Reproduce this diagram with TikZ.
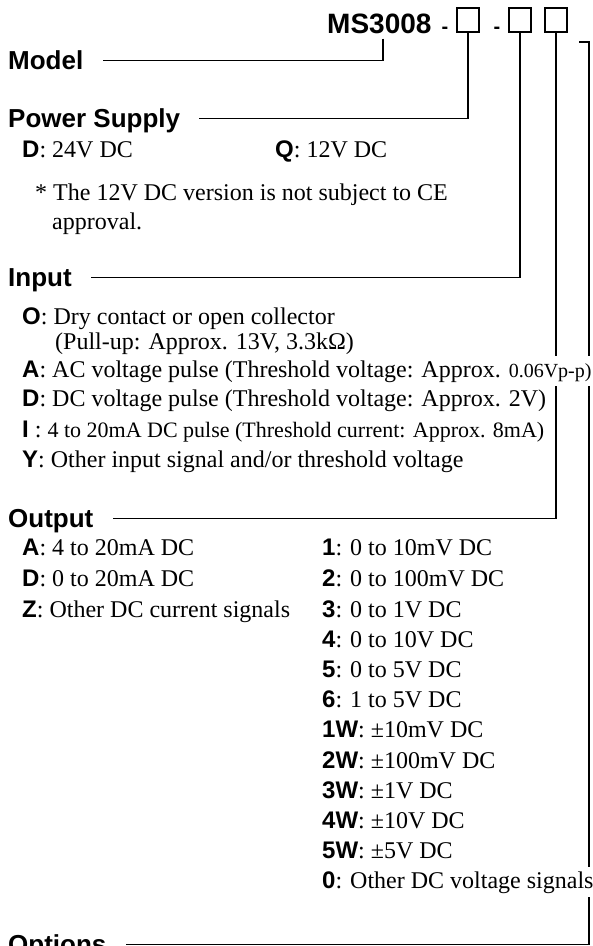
\documentclass[tikz,border=0pt]{standalone}
\usepackage{fontspec}
\setmainfont{Liberation Serif}
\setsansfont{Liberation Sans}
\usetikzlibrary{positioning}

\newcommand{\lbl}[1]{{\sffamily\bfseries #1}}

\begin{document}
\begin{tikzpicture}[x=1pt, y=-1pt,
    head/.style={anchor=base west, inner sep=0pt, text height=17pt, text depth=0pt, font=\sffamily\bfseries\fontsize{26}{30}\selectfont},
    item/.style={anchor=base west, inner sep=0pt, font=\fontsize{24}{28.8}\selectfont},
    codebox/.style={draw, line width=1.5pt, minimum width=22pt, minimum height=24pt, inner sep=0pt},
    sepmark/.style={anchor=base, inner sep=0pt, font=\sffamily\bfseries\fontsize{20}{22}\selectfont},
    conn/.style={line width=1.1pt, shorten >=19pt}]
    \useasboundingbox (0,0) rectangle (593,946);
    \clip (0,0) rectangle (593,946);

    % code line
    \node[anchor=base west, inner sep=0pt, font=\sffamily\bfseries\fontsize{28}{32}\selectfont] (mname) at (327,33) {MS3008};
    \node[sepmark] (d1) at (445,33) {-};
    \node[codebox] (b1) at (468,20) {};
    \node[sepmark] (d2) at (497,33) {-};
    \node[codebox] (b2) at (520,20) {};
    \node[codebox] (b3) at (556,20) {};
    \coordinate (tail) at (579,42);

    % headings
    \node[head] (mdl) at (8,69) {Model};
    \node[head] (ps) at (8,127) {Power Supply};
    \node[head] (inp) at (8,286) {Input};
    \node[head] (outp) at (8,527) {Output};
    \node[head] (opt) at (8,953) {Options};

    % connectors
    \draw[conn] ([xshift=56pt,yshift=-5pt]mname.south west) |- (mdl.east);
    \draw[conn] (b1.south) |- (ps.east);
    \draw[conn] (b2.south) |- (inp.east);
    \draw[conn] (b3.south) |- (outp.east);
    \draw[conn] (tail) -- ++(10,0) |- (opt.east);

    % power supply
    \node[item] (psd) at (22,157) {\lbl{D}: 24V DC};
    \node[item] (psq) at (275,157) {\lbl{Q}: 12V DC};
    \node[item] (note) at (35,200) {* The 12V DC version is not subject to CE};
    \node[item] (note2) at (52,229) {approval.};

    % input
    \node[item] (ino) at (22,324) {\lbl{O}: Dry contact or open collector};
    \node[item] (inpu) at (55,349) {(Pull-up: Approx. 13V, 3.3kΩ)};
    \node[item, fill=white, inner ysep=4pt] (ina) at (22,377) {\lbl{A}: AC voltage pulse (Threshold voltage: Approx. {\fontsize{20}{24}\selectfont 0.06Vp-p)}};
    \node[item] (ind) at (22,406) {\lbl{D}: DC voltage pulse (Threshold voltage: Approx. 2V)};
    \node[item] (ini) at (22,437) {\lbl{I} : {\fontsize{22}{26}\selectfont 4 to 20mA DC pulse (Threshold current: Approx. 8mA)}};
    \node[item] (iny) at (22,467) {\lbl{Y}: Other input signal and/or threshold voltage};

    % output, current
    \node[item] (oa) at (22,555) {\lbl{A}: 4 to 20mA DC};
    \node[item] (od) at (22,586) {\lbl{D}: 0 to 20mA DC};
    \node[item] (oz) at (22,617) {\lbl{Z}: Other DC current signals};

    % output, voltage
    \node[item] (o1) at (322,555) {\lbl{1}: 0 to 10mV DC};
    \node[item] (o2) at (322,586) {\lbl{2}: 0 to 100mV DC};
    \node[item] (o3) at (322,617) {\lbl{3}: 0 to 1V DC};
    \node[item] (o4) at (322,647) {\lbl{4}: 0 to 10V DC};
    \node[item] (o5) at (322,677) {\lbl{5}: 0 to 5V DC};
    \node[item] (o6) at (322,707) {\lbl{6}: 1 to 5V DC};
    \node[item] (o1w) at (322,737) {\lbl{1W}: ±10mV DC};
    \node[item] (o2w) at (322,768) {\lbl{2W}: ±100mV DC};
    \node[item] (o3w) at (322,798) {\lbl{3W}: ±1V DC};
    \node[item] (o4w) at (322,828) {\lbl{4W}: ±10V DC};
    \node[item] (o5w) at (322,858) {\lbl{5W}: ±5V DC};
    \node[item, fill=white, inner ysep=4pt] (o0) at (322,888) {\lbl{0}: Other DC voltage signals};
\end{tikzpicture}
\end{document}
